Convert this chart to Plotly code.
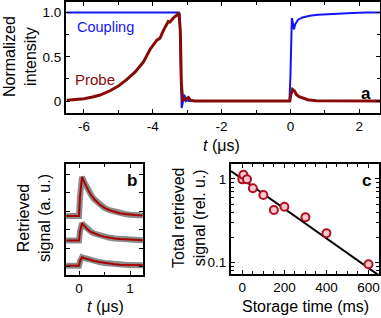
import math
import plotly.graph_objects as go

# ---------------- Panel a: normalized intensity vs time ----------------
coupling_t = [-6.5, -3.25, -3.22, -3.19, -3.16, -3.12, -3.08, -3.04, -3.0, -2.95,
              -0.03, 0.0, 0.04, 0.07, 0.10, 0.14, 0.22, 0.35, 0.56, 0.8, 1.0,
              1.33, 1.8, 2.2, 2.6]
coupling_v = [1.0, 1.0, 0.98, 0.5, -0.08, 0.0, 0.07, 0.0, 0.01, 0.0,
              0.0, 0.3, 0.94, 0.88, 0.81, 0.87, 0.92, 0.945, 0.965, 0.975, 0.98,
              0.99, 0.995, 1.0, 1.0]

probe_t = [-6.5, -6.25, -6.0, -5.75, -5.53, -5.24, -5.0, -4.75, -4.51, -4.27,
           -4.08, -3.88, -3.79, -3.69, -3.55, -3.5, -3.4, -3.3, -3.24, -3.2,
           -3.17, -3.13, -3.05, -2.97, -2.9, -2.8, -0.02, 0.01, 0.06, 0.12,
           0.17, 0.25, 0.37, 0.5, 0.75, 2.6]
probe_v = [0.01, 0.015, 0.026, 0.045, 0.068, 0.116, 0.169, 0.244, 0.33, 0.443,
           0.583, 0.688, 0.71, 0.80, 0.9, 0.894, 0.94, 0.97, 1.0, 0.8,
           0.2, 0.01, 0.02, 0.04, 0.01, 0.0, 0.0, 0.07, 0.132, 0.11,
           0.075, 0.05, 0.03, 0.015, 0.003, 0.0]

# ---------------- Panel b: retrieved signal (offset traces) ----------------
ret_t = [-0.25, 0.0, 0.02, 0.06, 0.1, 0.15, 0.2, 0.25, 0.3, 0.4, 0.5, 0.6,
         0.7, 0.8, 0.9, 1.0, 1.1, 1.25]
ret_top = [2.74, 2.74, 3.8, 4.86, 4.58, 4.28, 4.03, 3.82, 3.64, 3.37, 3.18, 3.05,
           2.96, 2.89, 2.85, 2.81, 2.79, 2.77]
ret_mid = [1.41, 1.41, 1.9, 2.35, 2.22, 2.08, 1.93, 1.86, 1.79, 1.69, 1.62, 1.56,
           1.52, 1.49, 1.47, 1.45, 1.44, 1.43]
ret_bot = [0.05, 0.05, 0.3, 0.51, 0.47, 0.42, 0.39, 0.35, 0.31, 0.25, 0.2, 0.16,
           0.13, 0.11, 0.10, 0.09, 0.08, 0.08]

# ---------------- Panel c: total retrieved signal vs storage time ----------------
storage_ms = [0, 5, 22, 50, 100, 150, 200, 300, 400, 600]
total_sig = [0.99, 1.12, 0.99, 0.774, 0.644, 0.426, 0.467, 0.349, 0.225, 0.096]
fit_amp = 1.0
fit_tau_ms = 245.0
fit_range = [-54, 650]

fit_x = fit_range
fit_y = [fit_amp * math.exp(-t / fit_tau_ms) for t in fit_range]

BLUE = "rgb(20,20,245)"
DRED = "rgb(135,10,10)"
FONT = "Liberation Sans, Arial, sans-serif"

fig = go.Figure()

# panel a
fig.add_trace(go.Scatter(x=coupling_t, y=coupling_v, mode="lines",
                         line=dict(color=BLUE, width=2), xaxis="x", yaxis="y",
                         showlegend=False))
fig.add_trace(go.Scatter(x=probe_t, y=probe_v, mode="lines",
                         line=dict(color=DRED, width=3), xaxis="x", yaxis="y",
                         showlegend=False))

# panel b
for vals in (ret_top, ret_mid, ret_bot):
    fig.add_trace(go.Scatter(x=ret_t, y=vals, mode="lines",
                             line=dict(color="rgba(110,110,110,0.8)", width=6),
                             xaxis="x2", yaxis="y2", showlegend=False))
for vals in (ret_top, ret_mid, ret_bot):
    fig.add_trace(go.Scatter(x=ret_t, y=vals, mode="lines",
                             line=dict(color="rgb(170,0,0)", width=2),
                             xaxis="x2", yaxis="y2", showlegend=False))

# panel c
fig.add_trace(go.Scatter(x=fit_x, y=fit_y, mode="lines",
                         line=dict(color="black", width=2),
                         xaxis="x3", yaxis="y3", showlegend=False))
fig.add_trace(go.Scatter(x=storage_ms, y=total_sig, mode="markers",
                         marker=dict(size=8, color="rgb(250,200,210)",
                                     line=dict(color="rgb(175,15,30)", width=2)),
                         xaxis="x3", yaxis="y3", showlegend=False))

axis_common = dict(showline=True, linecolor="black", linewidth=2, mirror="ticks",
                   ticks="inside", ticklen=4, tickwidth=1.3, tickcolor="black",
                   showgrid=False, zeroline=False,
                   tickfont=dict(family=FONT, size=13.5, color="black"))

fig.update_layout(
    width=381, height=318,
    margin=dict(l=0, r=0, t=0, b=0),
    paper_bgcolor="white", plot_bgcolor="white",
    font=dict(family=FONT, color="black"),
    xaxis=dict(domain=[66/381, 380/381], anchor="y", range=[-6.52, 2.6],
               tickvals=[-6, -4, -2, 0, 2], ticktext=["-6", "-4", "-2", "0", "2"],
               minor=dict(tickvals=[-5, -3, -1, 1], ticks="inside", ticklen=3,
                          tickcolor="black", showgrid=False),
               **axis_common),
    yaxis=dict(domain=[1 - 112.7/318, 1 - 2/318], anchor="x", range=[-0.132, 1.12],
               tickvals=[0, 0.5, 1.0], ticktext=["0", "0.5", "1.0"],
               minor=dict(tickvals=[0.25, 0.75], ticks="inside", ticklen=3,
                          tickcolor="black", showgrid=False),
               **axis_common),
    xaxis2=dict(domain=[66/381, 143/381], anchor="y2", range=[-0.255, 1.255],
                tickvals=[0, 1], ticktext=["0", "1"],
                minor=dict(tickvals=[0.5], ticks="inside", ticklen=3,
                           tickcolor="black", showgrid=False),
                **axis_common),
    yaxis2=dict(domain=[1 - 275/318, 1 - 164/318], anchor="x2", range=[-0.45, 5.55],
                tickvals=[0, 1, 2, 3, 4, 5], showticklabels=False,
                **axis_common),
    xaxis3=dict(domain=[231/381, 379/381], anchor="y3", range=[-54, 650],
                tickvals=[0, 200, 400, 600], ticktext=["0", "200", "400", "600"],
                minor=dict(tickvals=[-50, 50, 100, 150, 250, 300, 350, 450, 500, 550, 650],
                           ticks="inside", ticklen=3, tickcolor="black", showgrid=False),
                **axis_common),
    yaxis3=dict(domain=[1 - 274/318, 1 - 164/318], anchor="x3", type="log",
                range=[-1.135, 0.179],
                tickvals=[0.1, 1], ticktext=["0.1", "1"],
                minor=dict(tickvals=[0.08, 0.09, 0.2, 0.3, 0.4, 0.5, 0.6, 0.7, 0.8, 0.9],
                           ticks="inside", ticklen=3, tickcolor="black", showgrid=False),
                **axis_common),
)

def px_ann(text, x, y, size=16, color="black", angle=0, bold=False, xanchor="center"):
    if bold:
        text = "<b>" + text + "</b>"
    fig.add_annotation(text=text, x=x/381, y=1 - y/318, xref="paper", yref="paper",
                       showarrow=False, textangle=angle, xanchor=xanchor, yanchor="middle",
                       font=dict(family=FONT, size=size, color=color))

# legend-like labels in panel a
px_ann("Coupling", 75, 27, size=14.5, color=BLUE, xanchor="left")
px_ann("Probe", 73, 80, size=15, color=DRED, xanchor="left")
px_ann("a", 366, 93, size=17, bold=True)
px_ann("b", 132, 180, size=17, bold=True)
px_ann("c", 366, 180, size=17, bold=True)

# axis titles
px_ann("<i>t</i> (μs)", 221, 145, size=16)
px_ann("Normalized<br>intensity", 20, 57, size=16, angle=-90)
px_ann("<i>t</i> (μs)", 105, 306, size=16)
px_ann("Retrieved<br>signal (a. u.)", 34, 218, size=16, angle=-90)
px_ann("Storage time (ms)", 305, 306, size=16)
px_ann("Total retrieved<br>signal (rel. u.)", 189, 218, size=16, angle=-90)

fig.write_html("out.html", config={"displayModeBar": False},
               post_script="document.body.style.margin='0';")
